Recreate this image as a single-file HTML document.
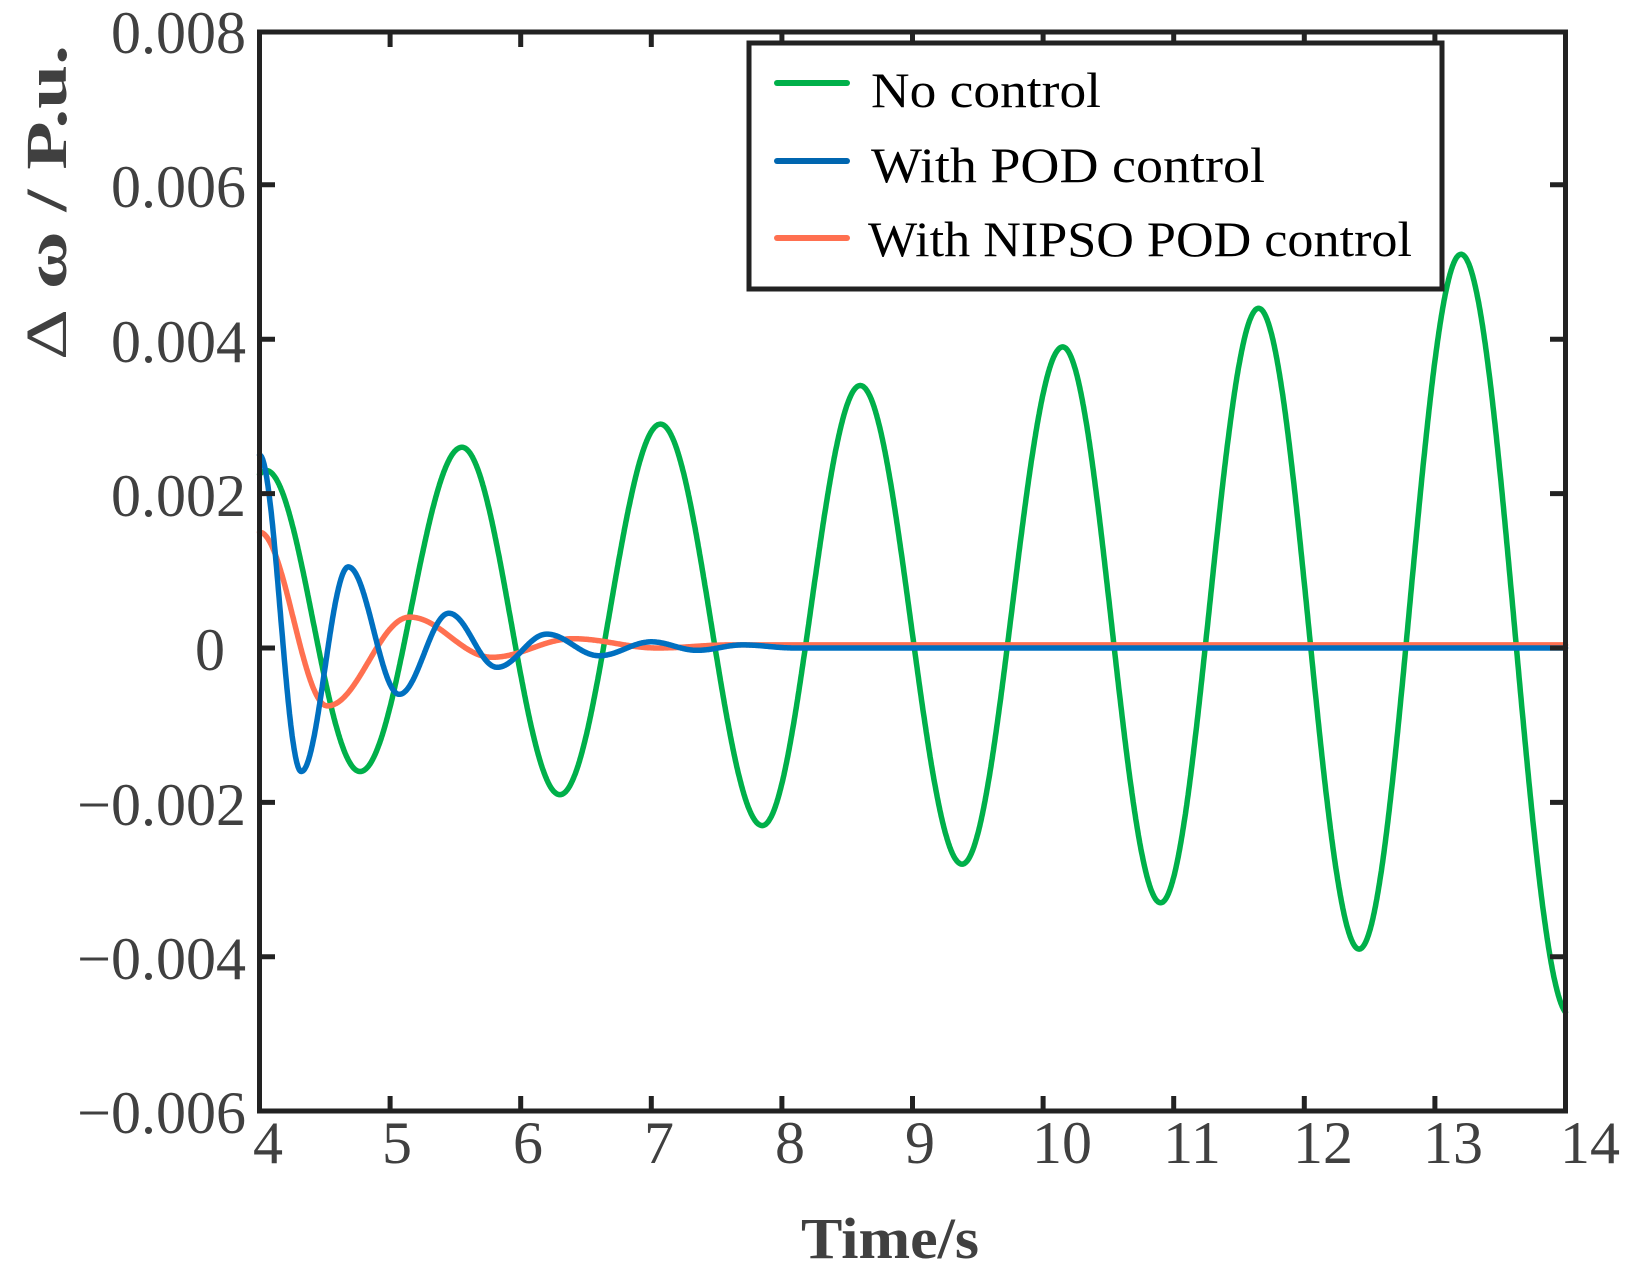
<!DOCTYPE html>
<html><head><meta charset="utf-8"><style>
html,body{margin:0;padding:0;background:#fff;}
svg{display:block;}
</style></head><body>
<svg id="s" width="1638" height="1269" viewBox="0 0 1638 1269" xmlns="http://www.w3.org/2000/svg" font-family="Liberation Serif, serif">
<rect width="1638" height="1269" fill="#fff"/>
<g id="curves" fill="none" stroke-width="5.5" stroke-linejoin="round" stroke-linecap="round"></g>
<g stroke="#222" stroke-width="5" fill="none">
<rect x="259.5" y="32" width="1306" height="1079"/>
<path id="ticks" d=""/>
</g>
<g fill="#404040" font-size="60" text-anchor="end">
<text x="246" y="53">0.008</text>
<text x="246" y="207">0.006</text>
<text x="246" y="362">0.004</text>
<text x="246" y="516">0.002</text>
<text x="225" y="670">0</text>
<text x="246" y="825">−0.002</text>
<text x="246" y="979">−0.004</text>
<text x="246" y="1133">−0.006</text>
</g>
<g fill="#404040" font-size="60" text-anchor="middle">
<text x="268" y="1163">4</text>
<text x="397" y="1163">5</text>
<text x="528" y="1163">6</text>
<text x="659" y="1163">7</text>
<text x="790" y="1163">8</text>
<text x="920" y="1163">9</text>
<text x="1062" y="1163">10</text>
<text x="1192" y="1163">11</text>
<text x="1323" y="1163">12</text>
<text x="1453" y="1163">13</text>
<text x="1590" y="1163">14</text>
</g>
<text x="890" y="1258" font-size="58" font-weight="bold" fill="#404040" text-anchor="middle" textLength="178" lengthAdjust="spacingAndGlyphs">Time/s</text>
<text transform="translate(66,360) rotate(-90)" font-size="58" font-weight="bold" fill="#404040" textLength="315" lengthAdjust="spacingAndGlyphs"><tspan font-weight="normal">Δ</tspan> ω / P.u.</text>
<rect x="749" y="43" width="693" height="246" fill="#fff" stroke="#222" stroke-width="5"/>
<g stroke-width="6" stroke-linecap="round">
<line x1="777" y1="83" x2="847" y2="83" stroke="#00b04a"/>
<line x1="777" y1="161" x2="847" y2="161" stroke="#0066b0"/>
<line x1="777" y1="238" x2="847" y2="238" stroke="#ff7050"/>
</g>
<g font-size="50" fill="#000">
<text x="871" y="107" textLength="230" lengthAdjust="spacingAndGlyphs">No control</text>
<text x="871" y="182" textLength="394" lengthAdjust="spacingAndGlyphs">With  POD control</text>
<text x="868" y="256" textLength="544" lengthAdjust="spacingAndGlyphs">With NIPSO POD control</text>
</g>
</svg>
<script>
var X=function(t){return 259.5+(t-4)*130.6;};
var Y=function(v){return 648-v*77200;};
function path(ex,endT){
 var d="";var N=2000;
 for(var i=0;i<=N;i++){
  var t=4+(endT-4)*i/N;var v;
  if(t<=ex[0][0]){v=ex[0][1];}
  else if(t>=ex[ex.length-1][0]){v=ex[ex.length-1][1];}
  else{for(var k=0;k<ex.length-1;k++){if(t>=ex[k][0]&&t<=ex[k+1][0]){var f=(t-ex[k][0])/(ex[k+1][0]-ex[k][0]);v=ex[k][1]+(ex[k+1][1]-ex[k][1])*(1-Math.cos(Math.PI*f))/2;break;}}}
  d+=(i?"L":"M")+X(t).toFixed(1)+" "+Y(v).toFixed(1);
 }
 return d;
}
var green=[[3.95,0.0022],[4.05,0.0023],[4.77,-0.0016],[5.55,0.0026],[6.3,-0.0019],[7.07,0.0029],[7.85,-0.0023],[8.6,0.0034],[9.38,-0.0028],[10.15,0.0039],[10.9,-0.0033],[11.65,0.0044],[12.42,-0.0039],[13.2,0.0051],[14.03,-0.00475]];
var blue=[[4,0.0025],[4.32,-0.0016],[4.68,0.00105],[5.07,-0.0006],[5.45,0.00045],[5.82,-0.00025],[6.2,0.00018],[6.6,-0.0001],[7.0,0.00008],[7.35,-0.00003],[7.7,0.00004],[8.1,0],[14,0]];
var orange=[[4,0.0015],[4.52,-0.00075],[5.15,0.0004],[5.78,-0.00012],[6.4,0.00012],[7.05,0.0],[7.6,0.00004],[14,0.00004]];
var g=document.getElementById("curves");
function add(d,c){var p=document.createElementNS("http://www.w3.org/2000/svg","path");p.setAttribute("d",d);p.setAttribute("stroke",c);g.appendChild(p);}
add(path(green,14),"#00b04a");
add(path(orange,14),"#ff7050");
add(path(blue,14),"#0070c0");
var td="";
for(var t=5;t<=13;t++){var x=X(t);td+="M"+x+" 1111V1096M"+x+" 32V47";}
for(var v=-4;v<=6;v+=2){var y=Y(v/1000);td+="M259.5 "+y+"H275M1565.5 "+y+"H1550";}
document.getElementById("ticks").setAttribute("d",td);
</script>
</body></html>
